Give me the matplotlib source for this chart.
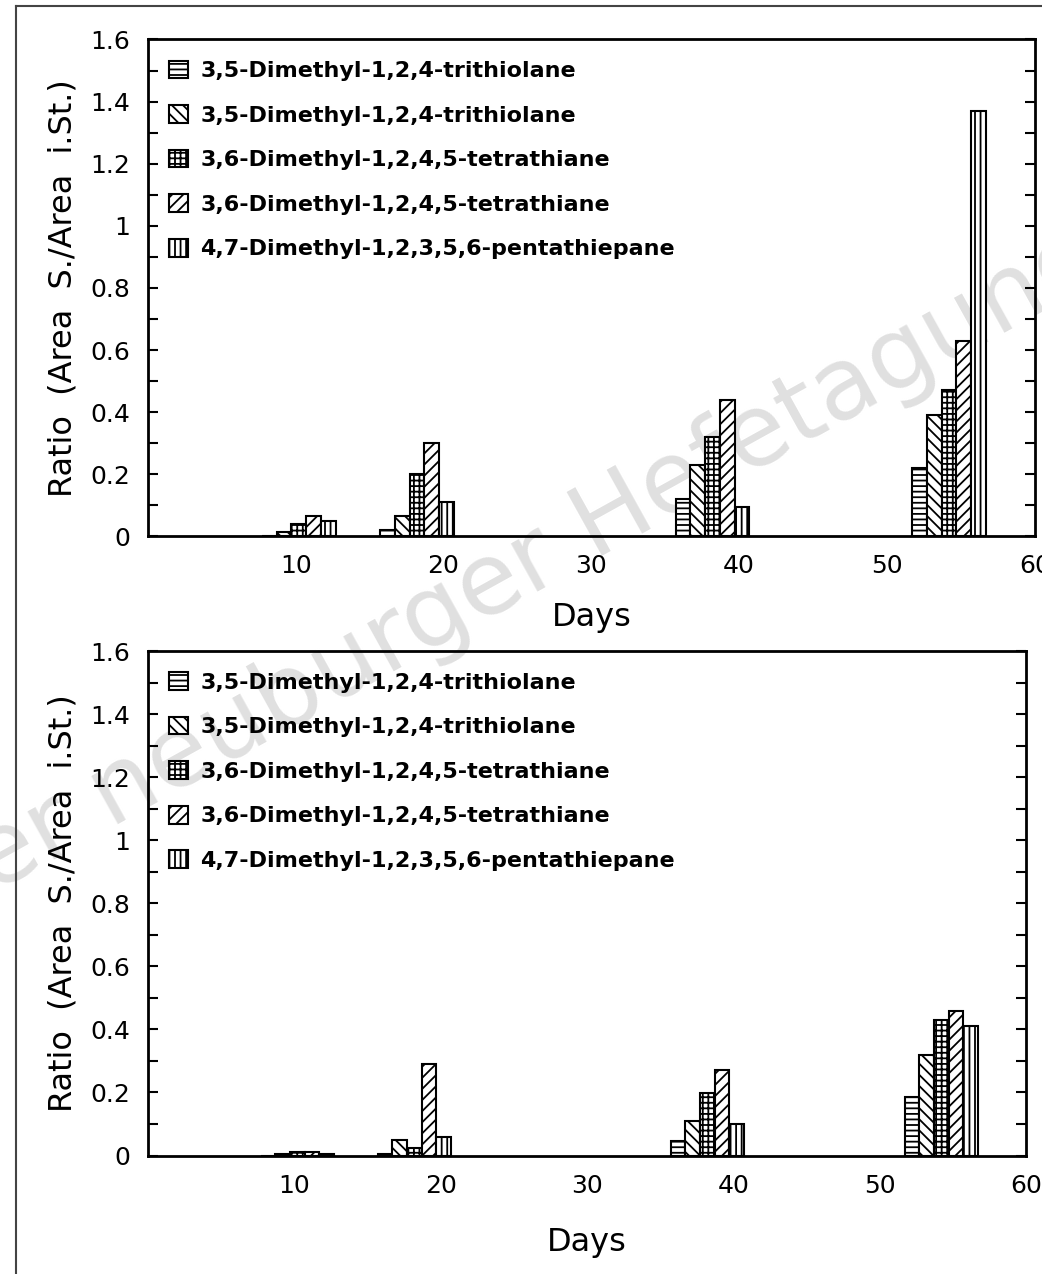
import numpy as np
import matplotlib.pyplot as plt
from matplotlib.lines import Line2D

# sampling groups (first day of each group of five bars)
group_start = [8, 16, 36, 52]

labels = ['3,5-Dimethyl-1,2,4-trithiolane',
          '3,5-Dimethyl-1,2,4-trithiolane',
          '3,6-Dimethyl-1,2,4,5-tetrathiane',
          '3,6-Dimethyl-1,2,4,5-tetrathiane',
          '4,7-Dimethyl-1,2,3,5,6-pentathiepane']
hatches = ['---', '\\\\\\', '+++', '///', '|||']

# top panel, one list per compound (values per group)
top_vals = [
    [0.0, 0.02, 0.12, 0.22],
    [0.015, 0.065, 0.23, 0.39],
    [0.04, 0.20, 0.32, 0.47],
    [0.065, 0.30, 0.44, 0.63],
    [0.05, 0.11, 0.095, 1.37],
]

# bottom panel
bot_vals = [
    [0.0, 0.005, 0.047, 0.187],
    [0.005, 0.05, 0.11, 0.32],
    [0.01, 0.025, 0.197, 0.43],
    [0.01, 0.29, 0.27, 0.457],
    [0.005, 0.06, 0.10, 0.41],
]

plt.rcParams['hatch.linewidth'] = 1.3
plt.rcParams['font.family'] = 'DejaVu Sans'

fig = plt.figure(figsize=(10.42, 12.74), dpi=100)
ax1 = fig.add_axes([0.142, 0.579, 0.851, 0.390])
ax2 = fig.add_axes([0.142, 0.093, 0.843, 0.396])

starts = np.array(group_start)


def draw(ax, vals, xpad):
    ax.patch.set_alpha(0)
    for i in range(5):
        ax.bar(starts + i + 0.2, vals[i], width=1.0, facecolor='white',
               edgecolor='black', linewidth=1.5, hatch=hatches[i],
               label=labels[i], zorder=3)
    ax.set_xlim(0, 60)
    ax.set_ylim(0, 1.6)
    ax.set_xticks([10, 20, 30, 40, 50, 60])
    ax.set_yticks([0, 0.2, 0.4, 0.6, 0.8, 1.0, 1.2, 1.4, 1.6])
    ax.set_yticklabels(['0', '0.2', '0.4', '0.6', '0.8', '1', '1.2', '1.4', '1.6'])
    ax.set_yticks(np.arange(0.1, 1.6, 0.2), minor=True)
    ax.tick_params(axis='y', which='both', direction='in', left=True, right=True,
                   length=7, width=1.5, labelsize=18, pad=13)
    ax.tick_params(axis='x', length=0, labelsize=18, pad=13)
    for s in ax.spines.values():
        s.set_linewidth(2.0)
    ax.set_xlabel('Days', fontsize=23, labelpad=xpad)
    ax.set_ylabel('Ratio  (Area  S./Area  i.St.)', fontsize=23, labelpad=8)
    leg = ax.legend(loc='upper left', frameon=False,
                    prop={'size': 16, 'weight': 'bold'},
                    handlelength=0.85, handleheight=0.85, handletextpad=0.55,
                    labelspacing=1.08, borderaxespad=0.55,
                    bbox_to_anchor=(0.0, 1.0))
    return leg


draw(ax1, top_vals, 17)
draw(ax2, bot_vals, 21)

# watermark of the scanned page
fig.text(0.515, 0.56, 'er neuburger Hefetagung', fontsize=72, color='#e0e0e0',
         rotation=29, ha='center', va='center', zorder=-1)

# page frame of the scan
fig.add_artist(Line2D([0.015, 0.015], [0.0, 0.995], color='#444444', lw=1.5))
fig.add_artist(Line2D([0.015, 1.0], [0.995, 0.995], color='#444444', lw=1.5))

fig.savefig('out.png', dpi=100)
